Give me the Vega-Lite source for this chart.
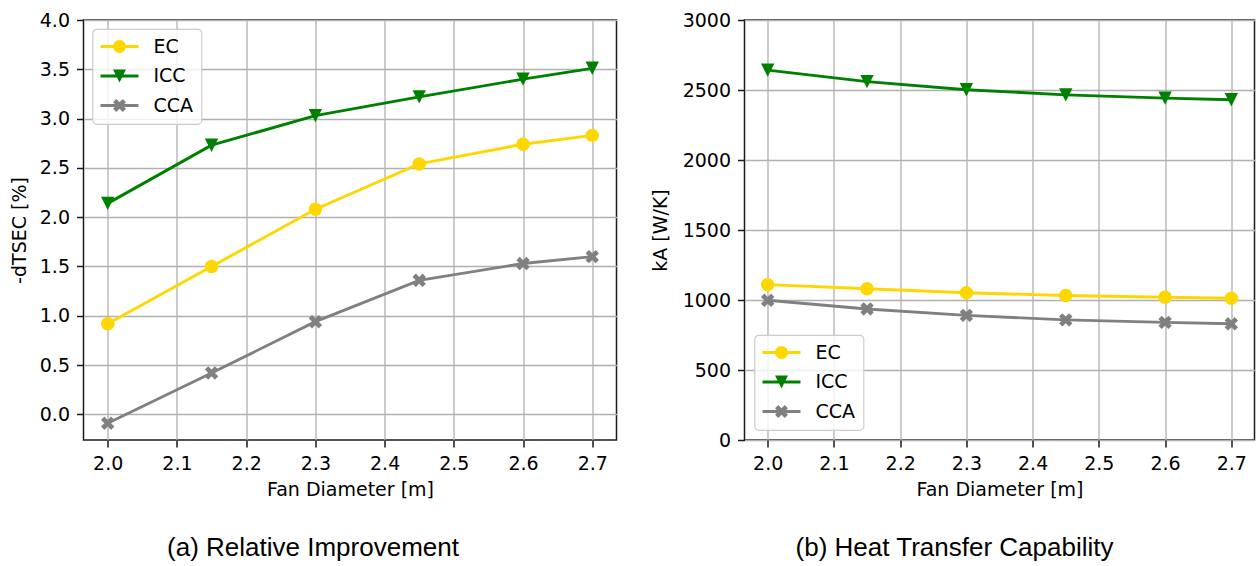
{
  "$schema": "https://vega.github.io/schema/vega-lite/v6.json",
  "padding": {"left": 9.5, "top": 10, "right": 0, "bottom": 0},
  "background": "white",
  "datasets": {
    "a": [
      {"d": 2.0, "s": "EC", "v": 0.92}, {"d": 2.15, "s": "EC", "v": 1.50}, {"d": 2.3, "s": "EC", "v": 2.08}, {"d": 2.45, "s": "EC", "v": 2.54}, {"d": 2.6, "s": "EC", "v": 2.74}, {"d": 2.7, "s": "EC", "v": 2.83},
      {"d": 2.0, "s": "ICC", "v": 2.14}, {"d": 2.15, "s": "ICC", "v": 2.73}, {"d": 2.3, "s": "ICC", "v": 3.03}, {"d": 2.45, "s": "ICC", "v": 3.22}, {"d": 2.6, "s": "ICC", "v": 3.40}, {"d": 2.7, "s": "ICC", "v": 3.51},
      {"d": 2.0, "s": "CCA", "v": -0.09}, {"d": 2.15, "s": "CCA", "v": 0.42}, {"d": 2.3, "s": "CCA", "v": 0.94}, {"d": 2.45, "s": "CCA", "v": 1.36}, {"d": 2.6, "s": "CCA", "v": 1.53}, {"d": 2.7, "s": "CCA", "v": 1.60}
    ],
    "b": [
      {"d": 2.0, "s": "EC", "v": 1110}, {"d": 2.15, "s": "EC", "v": 1080}, {"d": 2.3, "s": "EC", "v": 1052}, {"d": 2.45, "s": "EC", "v": 1032}, {"d": 2.6, "s": "EC", "v": 1020}, {"d": 2.7, "s": "EC", "v": 1012},
      {"d": 2.0, "s": "ICC", "v": 2642}, {"d": 2.15, "s": "ICC", "v": 2560}, {"d": 2.3, "s": "ICC", "v": 2502}, {"d": 2.45, "s": "ICC", "v": 2465}, {"d": 2.6, "s": "ICC", "v": 2442}, {"d": 2.7, "s": "ICC", "v": 2430},
      {"d": 2.0, "s": "CCA", "v": 998}, {"d": 2.15, "s": "CCA", "v": 936}, {"d": 2.3, "s": "CCA", "v": 890}, {"d": 2.45, "s": "CCA", "v": 858}, {"d": 2.6, "s": "CCA", "v": 840}, {"d": 2.7, "s": "CCA", "v": 830}
    ]
  },
  "config": {
    "font": "DejaVu Sans",
    "view": {"stroke": "#1a1a1a", "strokeWidth": 1.5},
    "axis": {
      "labelFont": "DejaVu Sans", "labelFontSize": 19, "labelColor": "#000000",
      "titleFont": "DejaVu Sans", "titleFontSize": 19, "titleFontWeight": "normal", "titleColor": "#000000",
      "domain": false, "tickColor": "#1a1a1a", "tickWidth": 1.5, "tickSize": 7, "labelPadding": 7,
      "grid": true, "gridColor": "#b0b0b0", "gridWidth": 1.3
    },
    "legend": {
      "title": null,
      "padding": 8,
      "fillColor": "rgba(255,255,255,0.8)",
      "strokeColor": "#cccccc",
      "strokeWidth": 1.2,
      "cornerRadius": 4,
      "labelFont": "DejaVu Sans",
      "labelFontSize": 19,
      "labelColor": "#000000",
      "symbolSize": 361,
      "symbolStrokeWidth": 0,
      "labelOffset": 34,
      "rowPadding": 9.5,
      "offset": 9
    }
  },
  "spacing": 32,
  "resolve": {
    "scale": {"color": "independent", "x": "independent", "y": "independent"},
    "legend": {"color": "independent"}
  },
  "hconcat": [
    {
      "width": 533,
      "height": 420,
      "title": {"text": "(a) Relative Improvement", "orient": "bottom", "frame": "group", "anchor": "middle", "dx": -37, "offset": 36, "font": "Liberation Sans", "fontSize": 26, "fontWeight": "normal", "color": "#000000"},
      "data": {"name": "a"},
      "encoding": {
        "x": {"field": "d", "type": "quantitative", "scale": {"domain": [1.965, 2.735], "nice": false, "zero": false},
              "axis": {"title": "Fan Diameter [m]", "values": [2.0, 2.1, 2.2, 2.3, 2.4, 2.5, 2.6, 2.7], "format": ".1f", "titlePadding": 7}},
        "y": {"field": "v", "type": "quantitative", "scale": {"domain": [-0.26, 4.0], "nice": false, "zero": false},
              "axis": {"title": "-dTSEC [%]", "values": [0, 0.5, 1, 1.5, 2, 2.5, 3, 3.5, 4], "format": ".1f", "titlePadding": 10}},
        "color": {"field": "s", "type": "nominal", "scale": {"domain": ["EC", "ICC", "CCA"], "range": ["#FFD700", "#008000", "#808080"]},
                  "legend": {"orient": "top-left", "offset": 9, "symbolType": "circle",
                    "encode": {"symbols": {"update": {
                      "shape": {"signal": "datum.value === 'EC' ? 'M-1,-0.15H3V0.15H-1Z M0.32,0A0.68,0.68 0 1,1 1.68,0A0.68,0.68 0 1,1 0.32,0Z' : datum.value === 'ICC' ? 'M-1,-0.15H3V0.15H-1Z M0.32,-0.68L1.68,-0.68L1,0.68Z' : 'M-1,-0.15H3V0.15H-1Z M0.66,-0.68L1,-0.34L1.34,-0.68L1.68,-0.34L1.34,0L1.68,0.34L1.34,0.68L1,0.34L0.66,0.68L0.32,0.34L0.66,0L0.32,-0.34Z'"},
                      "fill": {"signal": "datum.value === 'EC' ? '#FFD700' : datum.value === 'ICC' ? '#008000' : '#808080'"},
                      "stroke": {"value": "transparent"},
                      "opacity": {"value": 1}
                    }}}}}
      },
      "layer": [
        {"mark": {"type": "line", "strokeWidth": 2.9}},
        {"transform": [{"filter": "datum.s === 'EC'"}],
         "mark": {"type": "point", "filled": true, "opacity": 1, "size": 180, "strokeWidth": 0, "shape": "M-1,0A1,1 0 1,1 1,0A1,1 0 1,1 -1,0Z"}},
        {"transform": [{"filter": "datum.s === 'ICC'"}],
         "mark": {"type": "point", "filled": true, "opacity": 1, "size": 180, "strokeWidth": 0, "shape": "M-1,-1L1,-1L0,1Z"}},
        {"transform": [{"filter": "datum.s === 'CCA'"}],
         "mark": {"type": "point", "filled": true, "opacity": 1, "size": 180, "strokeWidth": 0, "shape": "M-0.5,-1L0,-0.5L0.5,-1L1,-0.5L0.5,0L1,0.5L0.5,1L0,0.5L-0.5,1L-1,0.5L-0.5,0L-1,-0.5Z"}}
      ]
    },
    {
      "width": 510,
      "height": 420,
      "title": {"text": "(b) Heat Transfer Capability", "orient": "bottom", "frame": "group", "anchor": "middle", "dx": -45, "offset": 36, "font": "Liberation Sans", "fontSize": 26, "fontWeight": "normal", "color": "#000000"},
      "data": {"name": "b"},
      "encoding": {
        "x": {"field": "d", "type": "quantitative", "scale": {"domain": [1.965, 2.735], "nice": false, "zero": false},
              "axis": {"title": "Fan Diameter [m]", "values": [2.0, 2.1, 2.2, 2.3, 2.4, 2.5, 2.6, 2.7], "format": ".1f", "titlePadding": 7}},
        "y": {"field": "v", "type": "quantitative", "scale": {"domain": [0, 3000], "nice": false, "zero": false},
              "axis": {"title": "kA [W/K]", "values": [0, 500, 1000, 1500, 2000, 2500, 3000], "format": "d", "titlePadding": 12}},
        "color": {"field": "s", "type": "nominal", "scale": {"domain": ["EC", "ICC", "CCA"], "range": ["#FFD700", "#008000", "#808080"]},
                  "legend": {"orient": "bottom-left", "offset": 10, "symbolType": "circle",
                    "encode": {"symbols": {"update": {
                      "shape": {"signal": "datum.value === 'EC' ? 'M-1,-0.15H3V0.15H-1Z M0.32,0A0.68,0.68 0 1,1 1.68,0A0.68,0.68 0 1,1 0.32,0Z' : datum.value === 'ICC' ? 'M-1,-0.15H3V0.15H-1Z M0.32,-0.68L1.68,-0.68L1,0.68Z' : 'M-1,-0.15H3V0.15H-1Z M0.66,-0.68L1,-0.34L1.34,-0.68L1.68,-0.34L1.34,0L1.68,0.34L1.34,0.68L1,0.34L0.66,0.68L0.32,0.34L0.66,0L0.32,-0.34Z'"},
                      "fill": {"signal": "datum.value === 'EC' ? '#FFD700' : datum.value === 'ICC' ? '#008000' : '#808080'"},
                      "stroke": {"value": "transparent"},
                      "opacity": {"value": 1}
                    }}}}}
      },
      "layer": [
        {"mark": {"type": "line", "strokeWidth": 2.9}},
        {"transform": [{"filter": "datum.s === 'EC'"}],
         "mark": {"type": "point", "filled": true, "opacity": 1, "size": 180, "strokeWidth": 0, "shape": "M-1,0A1,1 0 1,1 1,0A1,1 0 1,1 -1,0Z"}},
        {"transform": [{"filter": "datum.s === 'ICC'"}],
         "mark": {"type": "point", "filled": true, "opacity": 1, "size": 180, "strokeWidth": 0, "shape": "M-1,-1L1,-1L0,1Z"}},
        {"transform": [{"filter": "datum.s === 'CCA'"}],
         "mark": {"type": "point", "filled": true, "opacity": 1, "size": 180, "strokeWidth": 0, "shape": "M-0.5,-1L0,-0.5L0.5,-1L1,-0.5L0.5,0L1,0.5L0.5,1L0,0.5L-0.5,1L-1,0.5L-0.5,0L-1,-0.5Z"}}
      ]
    }
  ]
}
